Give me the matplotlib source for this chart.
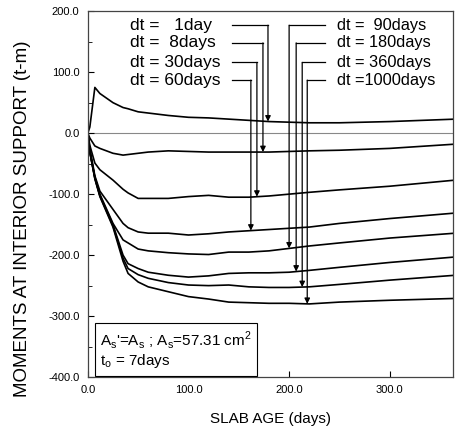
import numpy as np
import matplotlib
matplotlib.use('Agg')
import matplotlib.pyplot as plt

plt.rcParams['font.family'] = ['Liberation Sans', 'DejaVu Sans']

# slab age (days) where the curves were read
age = [0, 2, 7, 12, 25, 35, 40, 50, 60, 80, 100, 120, 140, 160, 180, 200, 220, 250, 300, 365]

m_1 = [0, 10, 75, 65, 50, 42, 40, 35, 33, 29, 26, 25, 23, 21, 19, 18, 17, 17, 19, 23]
m_8 = [0, -8, -21, -25, -33, -36, -35, -33, -31, -29, -30, -31, -31, -31, -31, -30, -29, -28, -25, -18]
m_30 = [0, -20, -49, -60, -77, -92, -98, -107, -107, -107, -104, -102, -105, -105, -103, -100, -97, -93, -87, -77]
m_60 = [0, -25, -70, -95, -125, -148, -155, -162, -164, -164, -167, -165, -162, -160, -158, -156, -154, -148, -140, -131]
m_90 = [0, -30, -72, -100, -148, -175, -180, -190, -193, -196, -198, -199, -195, -195, -193, -189, -185, -180, -172, -164]
m_180 = [0, -30, -73, -102, -150, -200, -214, -222, -228, -233, -236, -234, -230, -229, -229, -228, -225, -220, -212, -203]
m_360 = [0, -31, -74, -103, -152, -205, -222, -232, -238, -245, -249, -250, -249, -252, -253, -253, -252, -248, -241, -233]
m_1000 = [0, -31, -75, -104, -154, -210, -230, -244, -252, -260, -268, -272, -277, -278, -279, -279, -280, -277, -274, -271]

curves = [m_1, m_8, m_30, m_60, m_90, m_180, m_360, m_1000]
labels = ['dt =   1day', 'dt =  8days', 'dt = 30days', 'dt = 60days',
          'dt =  90days', 'dt = 180days', 'dt = 360days', 'dt =1000days']
# where each label's arrow comes down onto its curve (days)
arrow_x = [179, 174, 168, 162, 200, 207, 213, 218]
label_y = [177, 148, 116, 87, 177, 148, 116, 87]

fig = plt.figure(figsize=(4.55, 4.30), dpi=100)
ax = fig.add_axes([0.193, 0.123, 0.803, 0.851])

ax.axhline(0, color='#888888', lw=0.8, zorder=1)
for c in curves:
    ax.plot(age, c, color='black', lw=1.2, zorder=2)

for i in range(8):
    yc = np.interp(arrow_x[i], age, curves[i])
    if i < 4:
        ax.text(42, label_y[i], labels[i], fontsize=12.5, va='center', ha='left')
        ax.plot([143, arrow_x[i]], [label_y[i], label_y[i]], color='black', lw=0.9)
    else:
        ax.text(248, label_y[i], labels[i], fontsize=11.8, va='center', ha='left')
        ax.plot([236, arrow_x[i]], [label_y[i], label_y[i]], color='black', lw=0.9)
    ax.annotate('', xy=(arrow_x[i], yc), xytext=(arrow_x[i], label_y[i]),
                arrowprops=dict(arrowstyle='-|>', color='black', lw=0.9,
                                mutation_scale=8, shrinkA=0, shrinkB=0))

ax.text(12, -355,
        "A$_\\mathregular{s}$'=A$_\\mathregular{s}$ ; A$_\\mathregular{s}$=57.31 cm$^\\mathregular{2}$\n"
        "t$_\\mathregular{o}$ = 7days",
        fontsize=11, va='center', ha='left', linespacing=1.1,
        bbox=dict(boxstyle='square,pad=0.35', fc='white', ec='black', lw=0.8))

ax.set_xlim(0, 363)
ax.set_ylim(-400, 200)
ax.set_xticks([0, 100, 200, 300])
ax.set_xticklabels(['0.0', '100.0', '200.0', '300.0'])
ax.set_yticks([-400, -300, -200, -100, 0, 100, 200])
ax.set_yticklabels(['-400.0', '-300.0', '-200.0', '-100.0', '0.0', '100.0', '200.0'])
ax.set_yticks(np.arange(-350, 200, 100), minor=True)
ax.tick_params(direction='in', labelsize=8, length=4, pad=6)
ax.tick_params(which='minor', direction='in', length=3)
for s in ax.spines.values():
    s.set_color('#444444')
    s.set_linewidth(0.9)

ax.set_xlabel('SLAB AGE (days)', fontsize=11, labelpad=12)
ax.set_ylabel('MOMENTS AT INTERIOR SUPPORT (t-m)', fontsize=13.5, va='center')
ax.yaxis.set_label_coords(-0.18, 0.434)

fig.savefig('out.png', dpi=100)
